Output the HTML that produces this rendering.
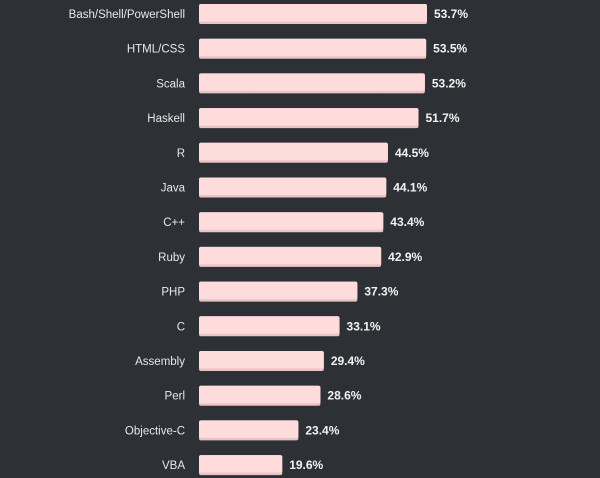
<!DOCTYPE html>
<html><head><meta charset="utf-8"><style>
html,body{margin:0;padding:0;background:#2d3034;}
svg{display:block;}
.lab{font-family:"Liberation Sans",sans-serif;font-size:11.5px;fill:#e8e8e8;}
.val{font-family:"Liberation Sans",sans-serif;font-size:12px;font-weight:bold;fill:#f2f2f2;}
</style></head><body>
<svg id="chart" width="600" height="478" xmlns="http://www.w3.org/2000/svg">
<rect x="0" y="0" width="600" height="478" fill="#2d3034"/>
<g id="bars"></g>
</svg>
<script>
const categories = ["Bash/Shell/PowerShell","HTML/CSS","Scala","Haskell","R","Java","C++","Ruby","PHP","C","Assembly","Perl","Objective-C","VBA"];
const values = [53.7,53.5,53.2,51.7,44.5,44.1,43.4,42.9,37.3,33.1,29.4,28.6,23.4,19.6];
const valueLabels = ["53.7%","53.5%","53.2%","51.7%","44.5%","44.1%","43.4%","42.9%","37.3%","33.1%","29.4%","28.6%","23.4%","19.6%"];

const x0 = 199, pxPer = 228/53.7;
const xScale = v => x0 + v*pxPer;
const yTop = i => 4 + i*34.7;
const barH = 20;
const NS = "http://www.w3.org/2000/svg";
const g = document.getElementById("bars");
categories.forEach((c,i)=>{
  const y = yTop(i), w = xScale(values[i]) - x0;
  const shade = document.createElementNS(NS,"rect");
  
  
  shade.setAttribute("x",x0);shade.setAttribute("y",y);shade.setAttribute("width",w);shade.setAttribute("height",barH);
  shade.setAttribute("rx",2);shade.setAttribute("fill","#ecc3c5");
  g.appendChild(shade);
  const bar = document.createElementNS(NS,"rect");
  
  
  bar.setAttribute("x",x0);bar.setAttribute("y",y);bar.setAttribute("width",w);bar.setAttribute("height",barH-2.5);
  bar.setAttribute("rx",2);bar.setAttribute("fill","#ffdcdc");
  g.appendChild(bar);
  const lab = document.createElementNS(NS,"text");
  
  
  lab.setAttribute("class","lab");lab.setAttribute("x",185);lab.setAttribute("y",y+14);lab.setAttribute("text-anchor","end");
  lab.textContent = c;
  g.appendChild(lab);
  const val = document.createElementNS(NS,"text");
  
  
  val.setAttribute("class","val");val.setAttribute("x",xScale(values[i])+7);val.setAttribute("y",y+14);
  val.textContent = valueLabels[i];
  g.appendChild(val);
});
</script>
</body></html>
